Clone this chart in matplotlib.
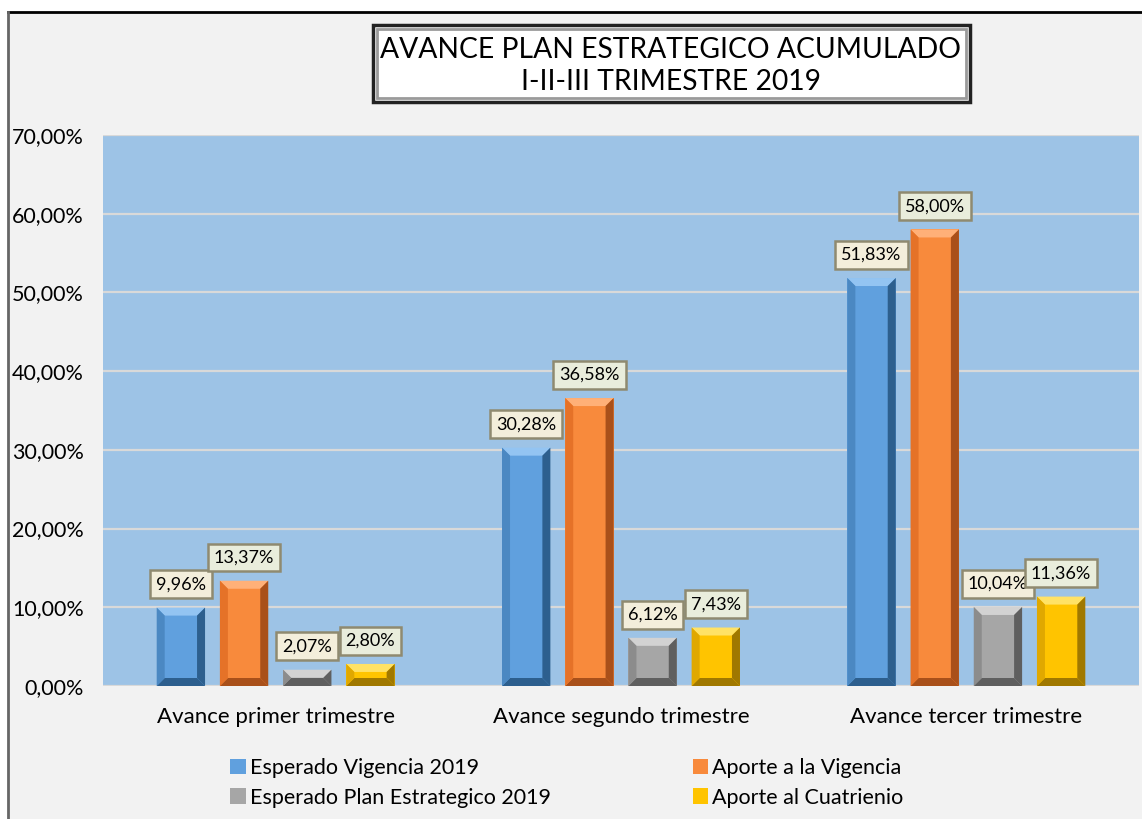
import matplotlib
matplotlib.use("Agg")
import matplotlib.pyplot as plt
from matplotlib.patches import Rectangle, Polygon
from matplotlib.lines import Line2D
import numpy as np

plt.rcParams['font.family'] = ['Lato', 'DejaVu Sans']

categories = ["Avance primer trimestre", "Avance segundo trimestre", "Avance tercer trimestre"]
series_names = ["Esperado Vigencia 2019", "Aporte a la Vigencia",
                "Esperado Plan Estrategico 2019", "Aporte al Cuatrienio"]
esperado_vigencia = [9.96, 30.28, 51.83]
aporte_vigencia = [13.37, 36.58, 58.00]
esperado_plan = [2.07, 6.12, 10.04]
aporte_cuatrienio = [2.80, 7.43, 11.36]
yticks = [0, 10, 20, 30, 40, 50, 60, 70]

series = [esperado_vigencia, aporte_vigencia, esperado_plan, aporte_cuatrienio]
colors = ["#60a0de", "#f88a3c", "#a6a6a6", "#ffc400"]
light = ["#93c4f2", "#ffb078", "#d2d2d2", "#ffe266"]
dark = ["#2d5f8e", "#a9501a", "#5f5f5f", "#a07800"]
midl = ["#4b88c2", "#e57228", "#8c8c8c", "#e0a800"]
label_fc = ["#f3eedb", "#e9eddc", "#f3eedb", "#e9eddc"]

W, H = 1142, 819
fig = plt.figure(figsize=(W / 100, H / 100), dpi=100)
fig.patch.set_facecolor("white")

# chart area background
bg = Rectangle((8 / W, 0), 1.0, 1 - 12 / H, transform=fig.transFigure,
               facecolor="#f2f2f2", edgecolor="none", zorder=-5)
fig.patches.append(bg)
fig.lines.append(Line2D([8 / W, 1], [1 - 12 / H, 1 - 12 / H], transform=fig.transFigure,
                        color="black", lw=2, zorder=-4))
fig.lines.append(Line2D([8 / W, 8 / W], [0, 1 - 12 / H], transform=fig.transFigure,
                        color="#666666", lw=2, zorder=-4))

ax = fig.add_axes([103 / W, 1 - 686 / H, (1139 - 103) / W, (686 - 135) / H])
ax.set_zorder(1)
ax.set_facecolor("#9dc3e6")
ax.set_xlim(-0.5, 2.5)
ax.set_ylim(0, 70)
for s in ax.spines.values():
    s.set_visible(False)
ax.set_yticks(yticks)
ax.set_yticklabels([f"{v:.2f}".replace(".", ",") + "%" for v in yticks], fontsize=15.5)
ax.tick_params(axis='y', length=0, pad=14)
ax.tick_params(axis='x', length=0, pad=15)
ax.set_xticks(range(len(categories)))
ax.set_xticklabels(categories, fontsize=16)
for v in yticks:
    ax.axhline(v, color="#d9d9d9", lw=1.6, zorder=1)

x = np.arange(len(categories))
bw = 0.14
pitch = 0.183
offsets = (np.arange(4) - 1.5) * pitch

# pixel to data conversion
ax_w_px = (1139 - 103)
ax_h_px = (686 - 135)
px_x = 3.0 / ax_w_px
px_y = 70.0 / ax_h_px
bev = 8

handles = []
for i, vals in enumerate(series):
    bars = ax.bar(x + offsets[i], vals, width=bw, color=colors[i], zorder=3,
                  edgecolor="none", label=series_names[i])
    handles.append(bars)
    for b, v in zip(bars, vals):
        x0, x1 = b.get_x(), b.get_x() + b.get_width()
        y0, y1 = 0, b.get_height()
        dx = bev * px_x
        dy = min(bev * px_y, (y1 - y0) / 2)
        polys = [
            ([(x0, y1), (x1, y1), (x1 - dx, y1 - dy), (x0 + dx, y1 - dy)], light[i]),
            ([(x0, y0), (x1, y0), (x1 - dx, y0 + dy), (x0 + dx, y0 + dy)], dark[i]),
            ([(x0, y0), (x0, y1), (x0 + dx, y1 - dy), (x0 + dx, y0 + dy)], midl[i]),
            ([(x1, y0), (x1, y1), (x1 - dx, y1 - dy), (x1 - dx, y0 + dy)], dark[i]),
        ]
        for pts, c in polys:
            ax.add_patch(Polygon(pts, closed=True, facecolor=c, edgecolor="none", zorder=4))
        ax.annotate(f"{v:.2f}".replace(".", ",") + "%", (b.get_x() + b.get_width() / 2, v),
                    xytext=(0, 11), textcoords="offset points", ha="center", va="bottom",
                    fontsize=13, zorder=6,
                    bbox=dict(boxstyle="square,pad=0.33", facecolor=label_fc[i],
                              edgecolor="#8f8a70", linewidth=1.8))

leg = fig.legend(handles=[handles[0], handles[2], handles[1], handles[3]],
                 labels=[series_names[0], series_names[2], series_names[1], series_names[3]],
                 ncol=2, loc="center", bbox_to_anchor=(567 / W, 1 - 783 / H),
                 frameon=False, fontsize=15.5, handlelength=0.7, handleheight=0.7,
                 handletextpad=0.2, columnspacing=6.6, labelspacing=0.42)

# title box
fig.patches.append(Rectangle((373 / W, 1 - 102 / H), 597 / W, 77 / H, transform=fig.transFigure,
                             facecolor="white", edgecolor="#222222", lw=2.5, zorder=5))
fig.patches.append(Rectangle((377 / W, 1 - 98 / H), 589 / W, 69 / H, transform=fig.transFigure,
                             facecolor="none", edgecolor="#9a9a9a", lw=2, zorder=5))
fig.text(671 / W, 1 - 66 / H, "AVANCE PLAN ESTRATEGICO ACUMULADO\nI-II-III TRIMESTRE 2019",
         ha="center", va="center", fontsize=20.3, linespacing=1.3, zorder=6)

fig.savefig("out.png", dpi=100, facecolor=fig.get_facecolor())
